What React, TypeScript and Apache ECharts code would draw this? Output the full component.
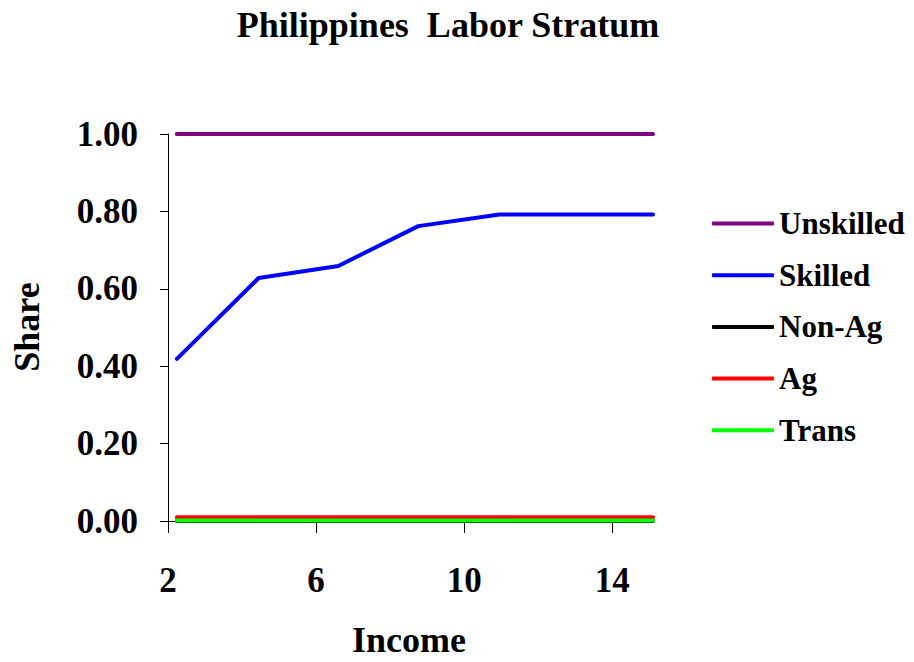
import React, { useEffect, useRef } from "react";
import * as echarts from "echarts";

const TITLE = "Philippines  Labor Stratum";
const X_NAME = "Income";
const Y_NAME = "Share";
const incomeX = [2.24, 4.45, 6.6, 8.76, 10.95, 13.1, 15.1];
const unskilled = [1.0, 1.0, 1.0, 1.0, 1.0, 1.0, 1.0];
const skilled = [0.419, 0.628, 0.659, 0.762, 0.792, 0.792, 0.792];
const nonAg = [0, 0, 0, 0, 0, 0, 0];
const ag = [0.01, 0.01, 0.01, 0.01, 0.01, 0.01, 0.01];
const trans = [0.001, 0.001, 0.001, 0.001, 0.001, 0.001, 0.001];
const xTicks = [2, 6, 10, 14];

const FONT = "'Liberation Serif', 'Times New Roman', serif";

export default function App() {
  const ref = useRef<HTMLDivElement>(null);
  useEffect(() => {
    if (!ref.current) return;
    const chart = echarts.init(ref.current, null, { renderer: "svg" });
    const mk = (name: string, vals: number[], color: string, z: number) => ({
      name,
      type: "line",
      data: incomeX.map((x, i) => [x, vals[i]]),
      showSymbol: false,
      symbol: "none",
      z,
      lineStyle: { color, width: 4, cap: "round", join: "round" },
      itemStyle: { color },
    });
    chart.setOption({
      animation: false,
      backgroundColor: "#ffffff",
      grid: { left: 168, right: 261, top: 134, bottom: 141 },
      xAxis: {
        type: "value",
        min: 2,
        max: 15.1,
        interval: 4,
        splitLine: { show: false },
        axisLine: { onZero: false, lineStyle: { color: "#000", width: 1 } },
        axisTick: { show: true, length: 12, customValues: xTicks, lineStyle: { color: "#000" } },
        axisLabel: {
          customValues: xTicks,
          margin: 42,
          color: "#000",
          fontFamily: FONT,
          fontWeight: "bold",
          fontSize: 35,
        },
      },
      yAxis: {
        type: "value",
        min: 0,
        max: 1,
        interval: 0.2,
        splitLine: { show: false },
        axisLine: { show: true, onZero: false, lineStyle: { color: "#000", width: 1 } },
        axisTick: { show: true, length: 8, lineStyle: { color: "#000" } },
        axisLabel: {
          margin: 30,
          color: "#000",
          fontFamily: FONT,
          fontWeight: "bold",
          fontSize: 35,
          formatter: (v: number) => v.toFixed(2),
        },
      },
      legend: {
        orient: "vertical",
        left: 712,
        top: 208,
        padding: 0,
        icon: "roundRect",
        itemWidth: 62,
        itemHeight: 4,
        itemGap: 20.7,
        textStyle: {
          color: "#000",
          fontFamily: FONT,
          fontWeight: "bold",
          fontSize: 31,
          lineHeight: 31,
        },
        data: ["Unskilled", "Skilled", "Non-Ag", "Ag", "Trans"],
      },
      graphic: [
        {
          type: "text",
          x: 448,
          y: 25,
          style: {
            text: TITLE,
            fill: "#000",
            font: `bold 36px ${FONT}`,
            textAlign: "center",
            textVerticalAlign: "middle",
          },
        },
        {
          type: "text",
          x: 409,
          y: 640,
          style: {
            text: X_NAME,
            fill: "#000",
            font: `bold 36px ${FONT}`,
            textAlign: "center",
            textVerticalAlign: "middle",
          },
        },
        {
          type: "text",
          x: 27,
          y: 327,
          rotation: Math.PI / 2,
          style: {
            text: Y_NAME,
            fill: "#000",
            font: `bold 36px ${FONT}`,
            textAlign: "center",
            textVerticalAlign: "middle",
          },
        },
      ],
      series: [
        mk("Unskilled", unskilled, "#800080", 5),
        mk("Skilled", skilled, "#0000ff", 5),
        mk("Non-Ag", nonAg, "#000000", 3),
        mk("Ag", ag, "#ff0000", 4),
        mk("Trans", trans, "#00ff00", 5),
      ],
    });
    return () => chart.dispose();
  }, []);
  return (
    <div
      ref={ref}
      style={{ position: "fixed", left: 0, top: 0, width: 914, height: 662, background: "#fff" }}
    />
  );
}
